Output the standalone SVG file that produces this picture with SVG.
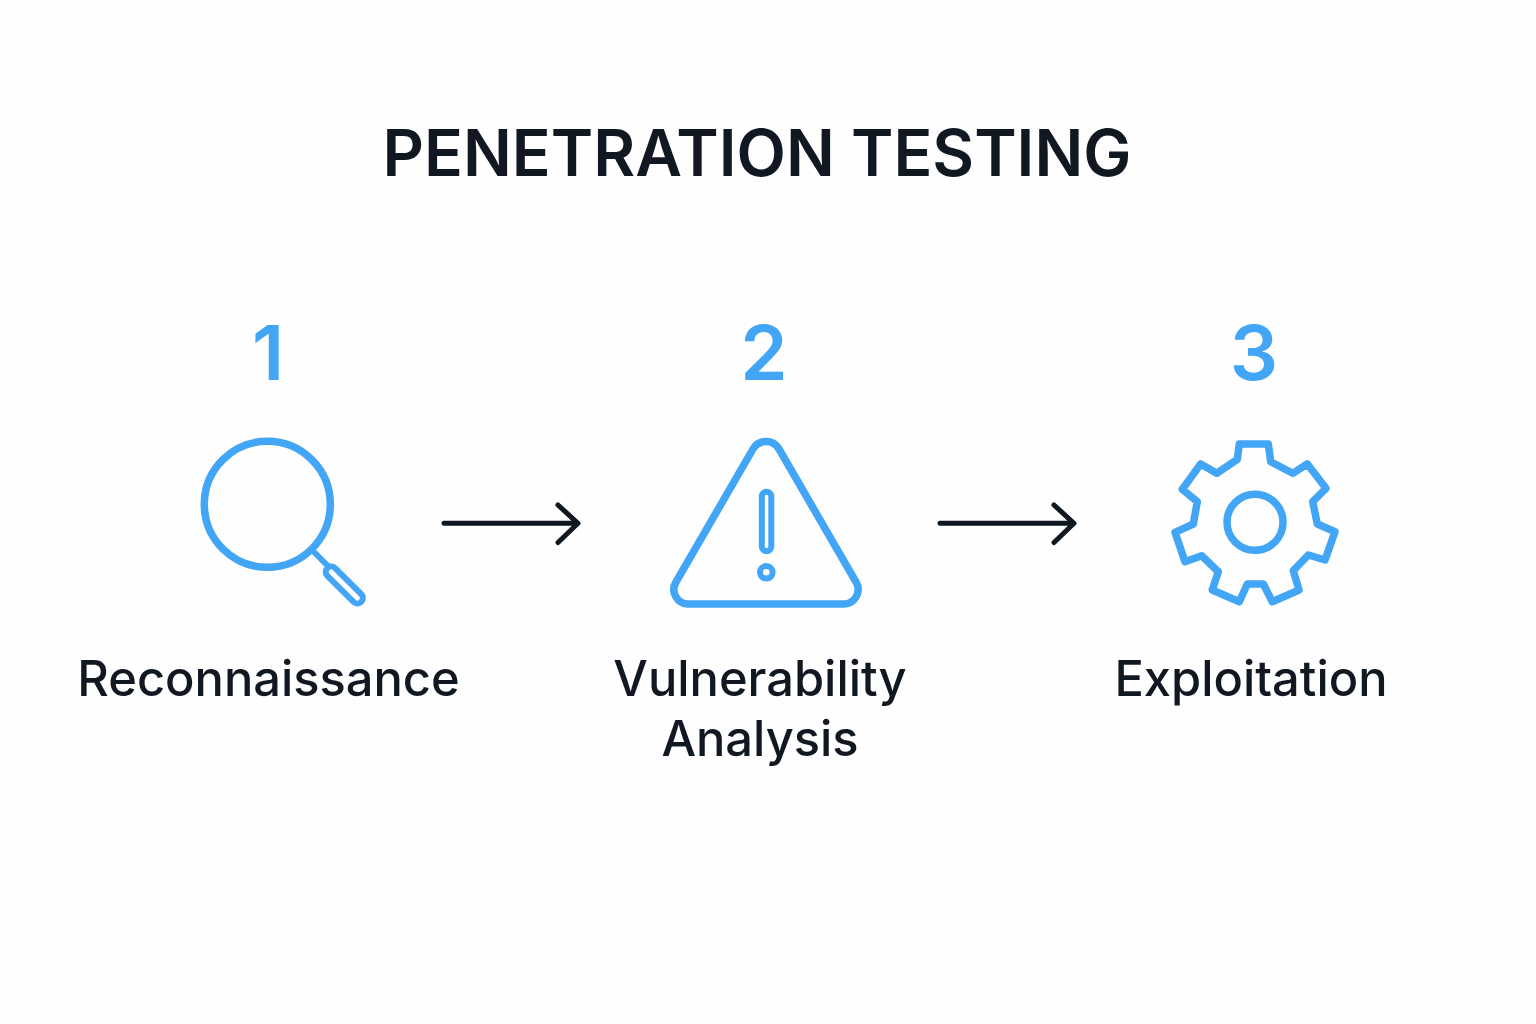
<svg xmlns="http://www.w3.org/2000/svg" width="1536" height="1024" viewBox="0 0 1536 1024">
<style>
text{font-family:Inter,"Liberation Sans",sans-serif;text-anchor:middle}
.t{font-size:64.300px;font-weight:600;fill:#111822}
.n{font-size:76px;font-weight:600;fill:#42a5f5}
.l{font-size:48.800px;font-weight:500;fill:#111822}
.i{fill:none;stroke:#42a5f5;stroke-width:7.500;stroke-linejoin:round;stroke-linecap:round}
.c{fill:none;stroke:#0f1720;stroke-width:5;stroke-linejoin:round;stroke-linecap:round}
</style>
<rect width="1536" height="1024" fill="#fefefe"/>
<g id="title"><text class="t" x="757" y="176">PENETRATION TESTING</text></g>
<g id="connectors">
<path class="c" d="M444,523.300H577M558,505L578,523.300L558,542.500"/>
<path class="c" d="M940,523.300H1073M1054,505L1074,523.300L1054,542.500"/>
</g>
<g id="step1">
<text class="n" x="268" y="380">1</text>
<circle class="i" cx="267.300" cy="504.300" r="63" style="stroke-width:7.500"/>
<path class="i" d="M313,551L328,566" style="stroke-width:6"/>
<rect class="i" x="-24" y="-5.500" width="48" height="11" rx="5.500" transform="translate(344.300 585) rotate(45)" style="stroke-width:6"/>
<text class="l" x="268.500" y="696">Reconnaissance</text>
</g>
<g id="step2">
<text class="n" x="764" y="380">2</text>
<path class="i" d="M689,604H844A14.500 14.500 0 0 0 856,582L779,449A15 15 0 0 0 753,449L676,582A14.500 14.500 0 0 0 689,604Z"/>
<rect class="i" x="761.800" y="491.800" width="9.500" height="59.500" rx="4.750" style="stroke-width:6"/>
<circle class="i" cx="766.300" cy="572.300" r="6.300" style="stroke-width:6"/>
<text class="l" x="760" y="696">Vulnerability</text>
<text class="l" x="760" y="756">Analysis</text>
</g>
<g id="step3">
<text class="n" x="1254" y="380">3</text>
<path class="i" d="M1237.300,459.300L1239.300,444H1268.300L1270.700,461.700L1292.700,473.300L1307.300,464L1326,488.300L1312.700,501.700L1317.300,524L1335,531.700L1325,560L1308.300,555L1293.300,570.700L1299,590L1272.300,601.700L1263.300,584H1247.300L1239.300,601.700L1212.300,590L1218.300,571.700L1201.700,555.700L1185,561.700L1175,532.300L1193.300,524L1197.300,501.700L1182.300,489.300L1200.700,464L1216.700,473.300Z"/>
<circle class="i" cx="1255" cy="522.300" r="28" style="stroke-width:7.500"/>
<text class="l" x="1251" y="696">Exploitation</text>
</g>
</svg>
